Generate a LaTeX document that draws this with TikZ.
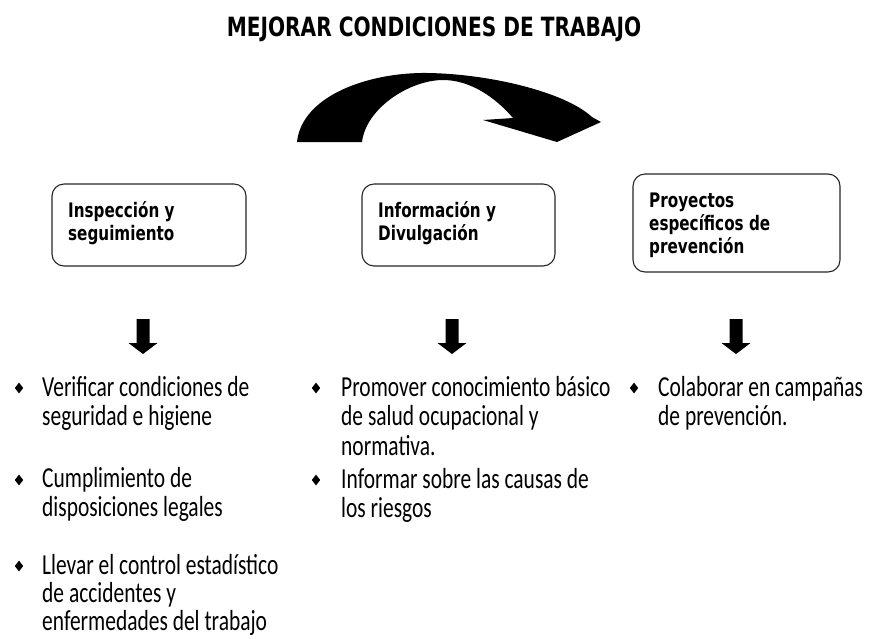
\documentclass[tikz,border=0pt]{standalone}
\usepackage{fontspec}
\newfontfamily\bodyfont[FakeStretch=0.74]{Carlito}
\newfontfamily\headfont[FakeStretch=0.76]{DejaVu Sans}
\usetikzlibrary{shapes.geometric}
\begin{document}
\begin{tikzpicture}[x=1pt,y=-1pt,
  box/.style={draw=black!85, line width=1.1pt, rounded corners=12pt, fill=white},
  boxtext/.style={anchor=north west, inner sep=0pt, align=left,
    font=\headfont\bfseries\fontsize{20}{23}\selectfont},
  item/.style={anchor=north west, inner sep=0pt, align=left,
    font=\bodyfont\fontsize{29}{29.5}\selectfont},
  bul/.style={diamond, fill=black, inner sep=0pt, minimum width=8.5pt, minimum height=11pt},
  darrow/.style={fill=black}
]
\useasboundingbox (0,0) rectangle (869,638);

% title
\node[inner sep=0pt, font=\headfont\bfseries\fontsize{26.5}{30}\selectfont] (title) at (434,29) {MEJORAR CONDICIONES DE TRABAJO};

% curved arrow
\fill[black] (297,142) .. controls (302,95) and (370,72) .. (428,73)
  .. controls (490,74) and (565,92) .. (592,117)
  -- (601,122) -- (557,142) -- (483,120) -- (513,118)
  .. controls (495,97) and (470,80) .. (443,80)
  .. controls (410,80) and (366,108) .. (362,142) -- cycle;

% boxes
\draw[box] (52,184) rectangle (246,266);
\draw[box] (362,184) rectangle (555,266);
\draw[box] (633,174) rectangle (840,272);
\node[boxtext] (b1) at (68,201) {Inspección y\\seguimiento};
\node[boxtext] (b2) at (378,201) {Información y\\Divulgación};
\node[boxtext] (b3) at (649,193) {Proyectos\\específicos de\\prevención};

% down arrows
\foreach \c/\n in {143/a1,452/a2,736/a3}{
  \fill[darrow] (\c-6.5,319) -- (\c+6.5,319) -- (\c+6.5,343) -- (\c+14.5,343)
    -- (\c,354) -- (\c-14.5,343) -- (\c-6.5,343) -- cycle;
}

% bullets
\node[bul] (d1) at (19,388) {};
\node[bul] (d2) at (19,480) {};
\node[bul] (d3) at (19,566) {};
\node[bul] (d4) at (316,388) {};
\node[bul] (d5) at (316,480) {};
\node[bul] (d6) at (634,388) {};

% items
\node[item] (t1) at (42,376) {Verificar condiciones de\\seguridad e higiene};
\node[item] (t2) at (42,467) {Cumplimiento de\\disposiciones legales};
\node[item, font=\bodyfont\fontsize{29}{28}\selectfont] (t3) at (42,554) {Llevar el control estadístico\\de accidentes y\\enfermedades del trabajo};
\node[item] (t4) at (341,376) {Promover conocimiento básico\\de salud ocupacional y\\normativa.};
\node[item] (t5) at (341,468) {Informar sobre las causas de\\los riesgos};
\node[item] (t6) at (658,376) {Colaborar en campañas\\de prevención.};
\end{tikzpicture}
\end{document}
